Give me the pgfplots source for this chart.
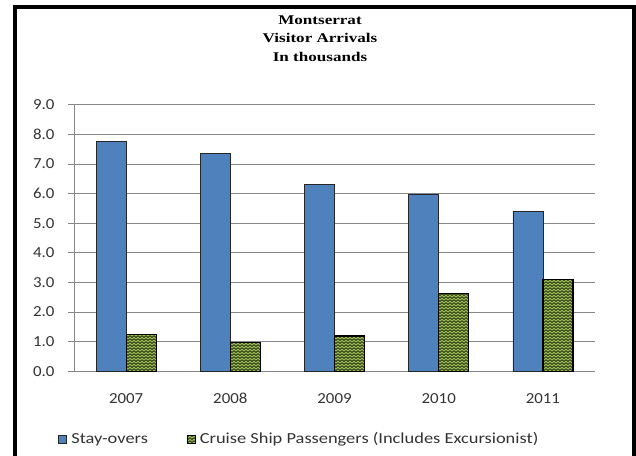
\documentclass[border=0pt]{standalone}
\usepackage{pgfplots}
\pgfplotsset{compat=1.18}
\usepackage{fontspec}
\usetikzlibrary{patterns}
\newfontfamily\tickfont[FakeStretch=1.1]{Carlito}
\newfontfamily\legfont[FakeStretch=1.2]{Carlito}
\newfontfamily\titlefont{Liberation Serif}
\definecolor{sblue}{HTML}{4F81BD}
\definecolor{sgreen}{HTML}{9BBB59}
\definecolor{dgreen}{HTML}{2A3A10}
\definecolor{gridgray}{HTML}{888888}
\pgfdeclarepatternformonly{zigzag}{\pgfpoint{-0.5pt}{-0.5pt}}{\pgfpoint{3.5pt}{2.75pt}}{\pgfpoint{3pt}{2.25pt}}{%
  \pgfsetlinewidth{0.65pt}%
  \pgfpathmoveto{\pgfpoint{0pt}{0.4pt}}%
  \pgfpathlineto{\pgfpoint{1.5pt}{1.7pt}}%
  \pgfpathlineto{\pgfpoint{3pt}{0.4pt}}%
  \pgfusepath{stroke}}
\begin{document}
\begin{tikzpicture}
\useasboundingbox (0pt,0pt) rectangle (477pt,341.25pt);
\draw[line width=3pt] (11.25pt,-5pt) rectangle (475.5pt,336pt);
\node[inner sep=0pt] at (240pt,312pt) {\titlefont\bfseries\fontsize{10}{13.9}\selectfont\scalebox{1.28}[1]{\begin{tabular}{@{}c@{}}Montserrat\\Visitor Arrivals\\In thousands\end{tabular}}};
\begin{axis}[
  at={(55.5pt,62.8pt)}, anchor=south west,
  scale only axis, width=390.75pt, height=199.8pt,
  xmin=-0.5, xmax=4.5, ymin=0, ymax=9,
  ybar=0pt, bar width=22.5pt,
  xtick={0,1,2,3,4}, xticklabels={2007,2008,2009,2010,2011},
  ytick={0,1,...,9},
  axis lines*=left,
  axis line style={gridgray, line width=0.75pt},
  ymajorgrids, grid style={gridgray, line width=0.75pt},
  tick align=outside, major tick length=4.5pt,
  xtick style={draw=none},
  ytick style={gridgray, line width=0.75pt},
  /pgf/number format/.cd, fixed, fixed zerofill, precision=1, assume math mode=true, /pgfplots/.cd,
  ticklabel style={font=\tickfont\fontsize{11.5}{14}\selectfont, text=black!80},
  yticklabel style={anchor=east, inner sep=0pt, xshift=-10pt},
  xticklabel style={anchor=base, inner sep=0pt, yshift=-19.5pt},
  legend columns=2,
  legend style={draw=none, fill=none, at={(-0.031,-0.255)}, anchor=west,
    font=\legfont\fontsize{11.5}{13}\selectfont, text=black!80,
    inner sep=0pt,
    /tikz/every odd column/.append style={column sep=1.5pt},
    /tikz/every even column/.append style={column sep=27pt}},
  legend cell align=left,
  legend image code/.code={\draw[#1,line width=0.4pt] (0pt,-3pt) rectangle (6pt,3pt);},
]
\addplot[fill=sblue, draw=black!85, line width=0.6pt] coordinates {(0,7.77) (1,7.37) (2,6.32) (3,5.99) (4,5.41)};
\addplot[fill=sgreen, draw=black, line width=0.9pt, postaction={pattern=zigzag, pattern color=dgreen}] coordinates {(0,1.23) (1,0.98) (2,1.19) (3,2.62) (4,3.09)};
\legend{Stay-overs, Cruise Ship Passengers (Includes Excursionist)}
\end{axis}
\end{tikzpicture}
\end{document}
